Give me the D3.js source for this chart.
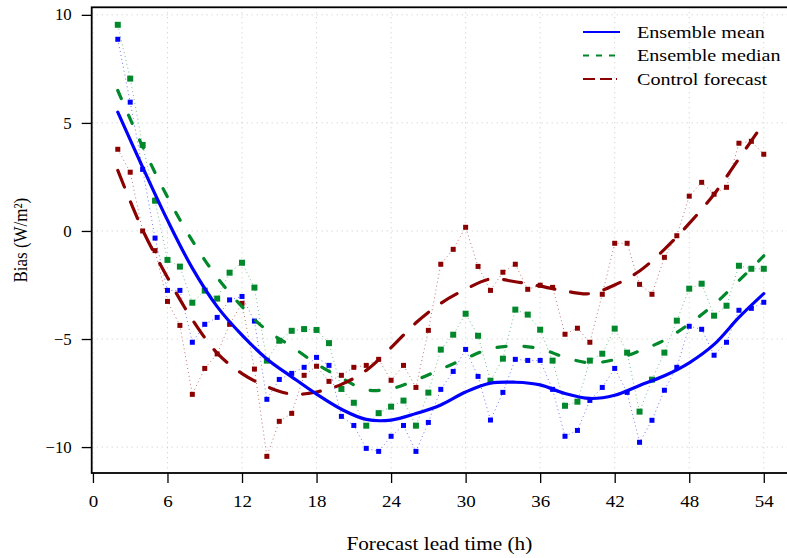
<!DOCTYPE html>
<html>
<head>
<meta charset="utf-8">
<script src="https://cdn.jsdelivr.net/npm/d3@7"></script>
<style>
  html, body { margin: 0; padding: 0; background: #fff; }
  svg { display: block; }
  text { font-family: "Liberation Serif", "DejaVu Serif", serif; fill: #000; }
</style>
</head>
<body>
<svg id="chart" width="787" height="558"></svg>
<script>
// ---- data ----
const leadTimes = d3.range(2, 55); // 2..54 h
const meanBias = [8.87, 5.96, 2.85, -0.33, -2.75, -2.75, -5.15, -4.32, -4.0, -3.19,
  -3.03, -4.17, -7.79, -6.87, -6.59, -6.31, -5.85, -6.22, -8.58, -9.0,
  -10.06, -10.2, -9.5, -9.0, -10.2, -8.86, -7.33, -6.5, -5.48, -6.73,
  -8.75, -7.47, -5.94, -5.99, -5.99, -7.33, -9.5, -9.23, -7.84, -7.24,
  -6.36, -7.47, -9.78, -8.76, -7.37, -6.31, -4.41, -4.55, -5.75, -5.15,
  -3.67, -3.58, -3.30];
const medianBias = [9.54, 7.05, 3.98, 1.40, -1.34, -1.65, -3.32, -2.76, -3.13, -1.93,
  -1.47, -2.62, -6.0, -5.08, -4.62, -4.54, -4.58, -5.19, -7.31, -7.95,
  -9.01, -8.43, -8.13, -7.85, -9.01, -7.48, -5.49, -4.8, -3.83, -4.85,
  -6.93, -5.91, -3.64, -3.87, -4.57, -6.0, -8.09, -7.90, -6.0, -5.68,
  -4.52, -5.63, -8.36, -6.88, -5.63, -4.15, -2.67, -2.44, -3.92, -3.46,
  -1.61, -1.75, -1.75];
const controlBias = [3.78, 2.72, 0.0, -0.91, -3.26, -4.37, -7.56, -6.36, -5.69, -4.32,
  -3.35, -6.39, -10.43, -8.81, -8.44, -6.68, -6.26, -6.96, -6.68, -6.31,
  -6.22, -5.94, -6.91, -6.22, -7.24, -4.6, -1.54, -0.85, 0.17, -1.64,
  -2.75, -1.91, -1.54, -2.70, -2.51, -2.61, -4.78, -4.5, -5.15, -2.93,
  -0.57, -0.57, -2.47, -2.93, -1.22, -0.22, 1.61, 2.25, 1.70, 2.02,
  4.06, 4.15, 3.55];

// smoothed curves (every 2 h)
const smoothTimes = d3.range(2, 55, 2);
const meanSmooth = [5.5, 2.95, 0.5, -1.72, -3.5, -4.82, -5.92, -6.75, -7.55, -8.25,
  -8.72, -8.75, -8.45, -8.05, -7.45, -7.04, -7.0, -7.12, -7.52, -7.75,
  -7.6, -7.15, -6.7, -6.1, -5.25, -4.0, -2.9];
const medianSmooth = [6.5, 3.9, 1.57, -0.45, -2.15, -3.5, -4.6, -5.35, -6.15, -6.8,
  -7.35, -7.3, -6.9, -6.4, -5.9, -5.45, -5.33, -5.45, -5.85, -6.1,
  -5.95, -5.55, -5.05, -4.3, -3.4, -2.3, -1.15];
const controlSmooth = [2.8, 0.05, -2.15, -4.1, -5.65, -6.6, -7.2, -7.55, -7.45, -7.1,
  -6.45, -5.4, -4.25, -3.35, -2.7, -2.22, -2.35, -2.55, -2.78, -2.9,
  -2.5, -1.85, -0.85, 0.35, 1.7, 3.35, 5.0];

const xTicks = [0, 6, 12, 18, 24, 30, 36, 42, 48, 54];
const yTicks = [-10, -5, 0, 5, 10];
const seriesNames = ["Ensemble mean", "Ensemble median", "Control forecast"];
const seriesColors = ["#0000ff", "#00882b", "#8b0000"];

// ---- chart ----
const STRETCH = 1.15; // glyphs in the original are slightly wide
const svg = d3.select("#chart");
const x = d3.scaleLinear().domain([-0.1, 55.95]).range([91.7, 788]);
const y = d3.scaleLinear().domain([-11.2, 10.35]).range([473, 7.3]);
const [x0, x1] = x.range();
const [yb, yt] = y.range();

// grid
const grid = svg.append("g").attr("stroke", "#c8c8c8").attr("stroke-width", 1)
  .attr("stroke-dasharray", "1,4");
grid.selectAll("line.v").data(xTicks).join("line")
  .attr("x1", d => x(d)).attr("x2", d => x(d)).attr("y1", yt).attr("y2", yb);
grid.selectAll("line.h").data(yTicks).join("line")
  .attr("y1", d => y(d)).attr("y2", d => y(d)).attr("x1", x0).attr("x2", x1);

// axes
const xAxis = d3.axisBottom(x).tickValues(xTicks).tickSize(10).tickSizeOuter(0).tickPadding(12);
const gx = svg.append("g").attr("transform", `translate(0,${yb})`).call(xAxis);
gx.select(".domain").remove();
gx.selectAll("text").attr("font-size", 16.5).attr("font-family", "Liberation Serif")
  .attr("transform", `scale(${STRETCH},1)`);
gx.selectAll("line").attr("stroke-width", 1.3);

const yAxis = d3.axisLeft(y).tickValues(yTicks).tickSize(10).tickSizeOuter(0).tickPadding(9)
  .tickFormat(d => d < 0 ? "\u2212" + Math.abs(d) : String(d));
const gy = svg.append("g").attr("transform", `translate(${x0},0)`).call(yAxis);
gy.select(".domain").remove();
gy.selectAll("text").attr("font-size", 16).attr("font-family", "Liberation Serif")
  .attr("transform", `scale(1.05,1)`);
gy.selectAll("line").attr("stroke-width", 1.3);

// box
svg.append("rect").attr("x", x0).attr("y", yt).attr("width", x1 - x0).attr("height", yb - yt)
  .attr("fill", "none").attr("stroke", "#000").attr("stroke-width", 1.8);

// axis titles
svg.append("text")
  .attr("transform", `translate(${(x(0) + x(54)) / 2 + 11},550) scale(${STRETCH},1)`)
  .attr("text-anchor", "middle").attr("font-size", 18.5).text("Forecast lead time (h)");
svg.append("text").attr("transform", `translate(27,${(yt + yb) / 2}) rotate(-90) scale(1,${STRETCH})`)
  .attr("text-anchor", "middle").attr("font-size", 17).text("Bias (W/m²)");

// raw series (dotted lines + squares)
const rawSeries = [
  { vals: controlBias, color: seriesColors[2], size: 5 },
  { vals: meanBias, color: seriesColors[0], size: 5 },
  { vals: medianBias, color: seriesColors[1], size: 6 }
];
const rawLine = d3.line().x(d => x(d[0])).y(d => y(d[1]));
rawSeries.forEach(s => {
  const pts = leadTimes.map((t, i) => [t, s.vals[i]]);
  svg.append("path").datum(pts).attr("d", rawLine).attr("fill", "none")
    .attr("stroke", s.color).attr("stroke-width", 1).attr("stroke-opacity", 0.55)
    .attr("stroke-dasharray", "1,3");
  svg.append("g").selectAll("rect").data(pts).join("rect")
    .attr("x", d => x(d[0]) - s.size / 2).attr("y", d => y(d[1]) - s.size / 2)
    .attr("width", s.size).attr("height", s.size).attr("fill", s.color);
});

// smooth curves
const smoothLine = d3.line().x(d => x(d[0])).y(d => y(d[1])).curve(d3.curveCatmullRom.alpha(0.5));
const smoothSeries = [
  { vals: medianSmooth, color: seriesColors[1], dash: "9,18" },
  { vals: controlSmooth, color: seriesColors[2], dash: "18,16" },
  { vals: meanSmooth, color: seriesColors[0], dash: null }
];
smoothSeries.forEach(s => {
  const pts = smoothTimes.map((t, i) => [t, s.vals[i]]);
  svg.append("path").datum(pts).attr("d", smoothLine).attr("fill", "none")
    .attr("stroke", s.color).attr("stroke-width", 3.2).attr("stroke-linecap", "round")
    .attr("stroke-dasharray", s.dash);
});

// legend
const legendDash = [null, "6,7", "12,5,12,4,1,10"];
const legend = svg.append("g");
seriesNames.forEach((name, i) => {
  const ly = 32 + i * 23.5;
  legend.append("line").attr("x1", 583).attr("x2", 620).attr("y1", ly).attr("y2", ly)
    .attr("stroke", seriesColors[i]).attr("stroke-width", 2)
    .attr("stroke-dasharray", legendDash[i]);
  legend.append("text").attr("transform", `translate(637,${ly + 5.5}) scale(${STRETCH},1)`)
    .attr("font-size", 17.5).text(name);
});
</script>
</body>
</html>
